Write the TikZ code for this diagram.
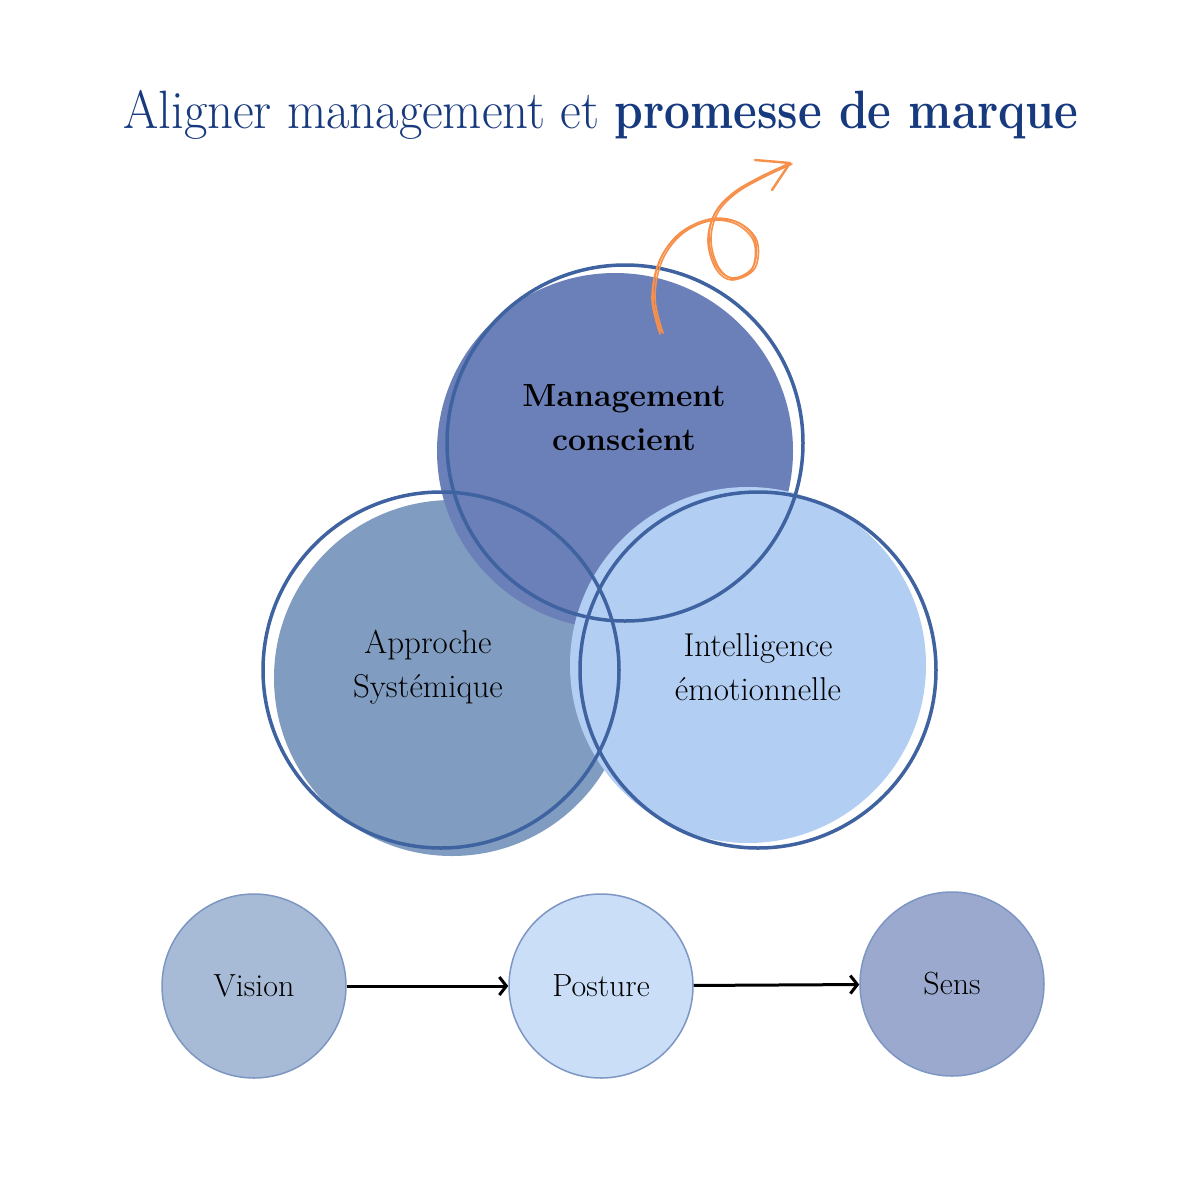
\documentclass[tikz,border=0pt]{standalone}
\usepackage{graphicx}
\usetikzlibrary{arrows.meta}
\definecolor{navy}{HTML}{17397E}
\definecolor{ringc}{HTML}{3F62A0}
\definecolor{topfill}{HTML}{6B80B8}
\definecolor{leftfill}{HTML}{809DC1}
\definecolor{rightfill}{HTML}{B3CEF3}
\definecolor{visfill}{HTML}{A8BBD6}
\definecolor{posfill}{HTML}{CADEF7}
\definecolor{sensfill}{HTML}{9BA9CE}
\definecolor{smallring}{HTML}{7D96C3}
\definecolor{orangeline}{HTML}{F7904A}
\begin{document}
\begin{tikzpicture}[x=0.5pt,y=-0.5pt,
  bigring/.style={circle, draw=ringc, line width=1.75pt, minimum size=178pt, inner sep=0pt},
  lbl/.style={align=center, text=black, font=\fontsize{16.5}{22}\selectfont},
  smallnode/.style={circle, draw=smallring, line width=0.75pt, minimum size=92pt, inner sep=0pt,
     text=black, font=\fontsize{16}{18}\selectfont},
  flow/.style={line width=1.5pt, -{Straight Barb[length=3.5pt,width=9pt]}},
  sketch/.style={orangeline, line width=0.8pt, line cap=round, line join=round}]
\useasboundingbox (0,0) rectangle (1200,1200);
\fill[white] (0,0) rectangle (1200,1200);

% title
\node[anchor=base west, text=navy, inner sep=0pt] (title) at (123,128)
  {\resizebox{238pt}{\height}{\fontsize{27}{30}\selectfont Aligner management et}\hspace{7.5pt}%
   \resizebox{232pt}{\height}{\fontsize{27}{30}\selectfont\bfseries promesse de marque}};

% filled discs
\fill[leftfill] (452,678) circle[radius=89pt];
\fill[topfill] (615,451) circle[radius=89pt];
\fill[rightfill] (748,665) circle[radius=89pt];

% rings
\node[bigring] (mcring) at (625,443) {};
\node[bigring] (asring) at (441,670) {};
\node[bigring] (iering) at (758,670) {};

% labels
\node[lbl, font=\fontsize{16}{22}\selectfont\bfseries] (mclabel) at (624,418) {Management\\conscient};
\node[lbl] (aslabel) at (428,667) {Approche\\Systémique};
\node[lbl] (ielabel) at (758,667) {Intelligence\\émotionnelle};

% bottom flow
\node[smallnode, fill=visfill] (vision) at (254,986) {Vision};
\node[smallnode, fill=posfill] (posture) at (601,986) {Posture};
\node[smallnode, fill=sensfill] (sens) at (952,984) {Sens};
\draw[flow] (vision) -- (posture);
\draw[flow] (posture) -- (sens);

% orange hand-drawn arrow
\coordinate (ob) at (790,163);
\foreach \dx/\dy in {0/0, 2/1, -1/2}{
  \begin{scope}[shift={(\dx,\dy)}]
  \draw[sketch] plot[smooth, tension=0.6] coordinates {(661,332) (653,297) (660,260) (680,233) (710,219) (737,222) (755,240) (753,267) (733,278) (717,267) (709,240) (715,213) (733,193) (760,177) (790,163)};
  \end{scope}
}
\draw[sketch, line width=1.2pt] (755,160) -- (ob) -- (772,190);
\end{tikzpicture}
\end{document}
